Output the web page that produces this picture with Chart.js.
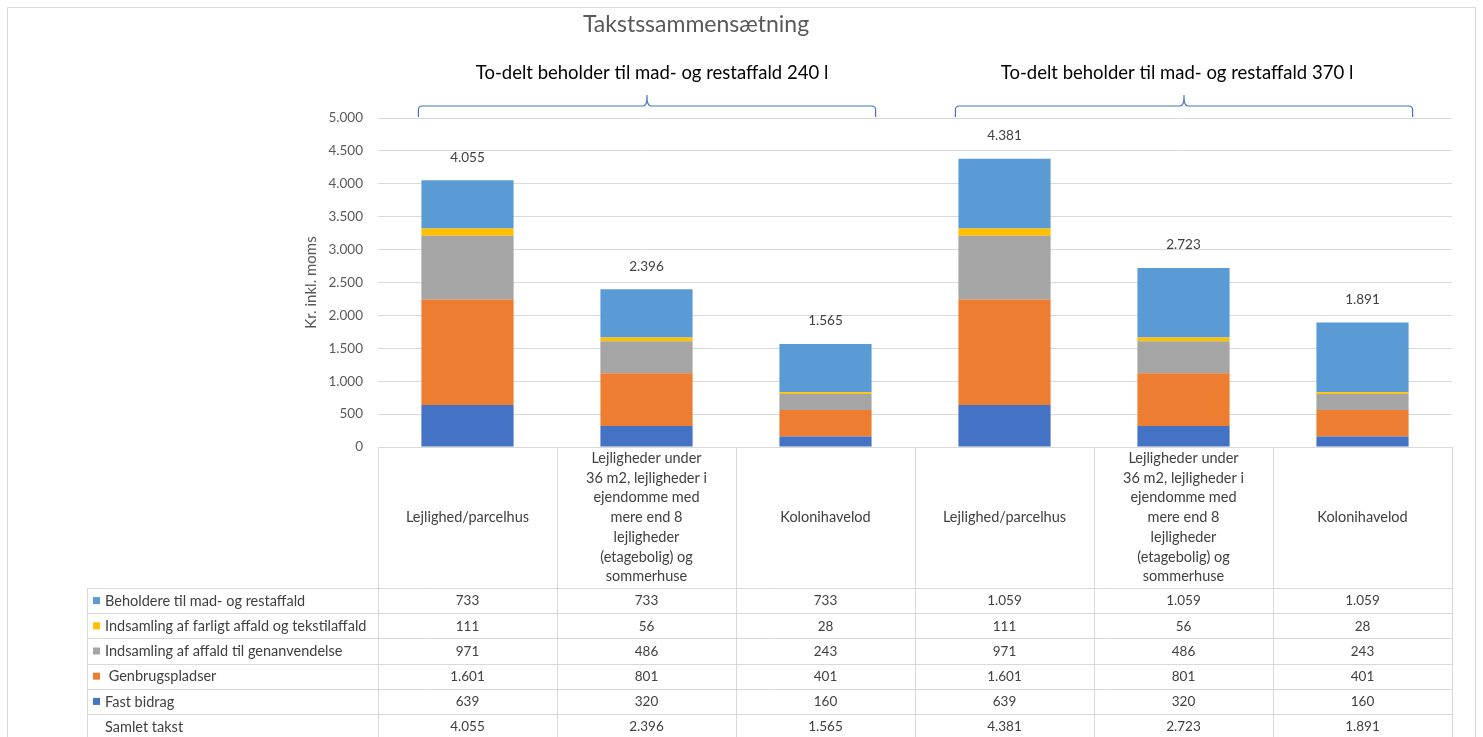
<!DOCTYPE html>
<html>
<head>
<meta charset="utf-8">
<script src="https://cdn.jsdelivr.net/npm/chart.js@4.4.1/dist/chart.umd.min.js"></script>
<style>
  html, body { margin: 0; padding: 0; background: #fff; }
  #wrap { width: 1483px; height: 737px; }
</style>
</head>
<body>
<div id="wrap"><canvas id="chart" width="1483" height="737"></canvas></div>
<script>
const categories = [
  ['Lejlighed/parcelhus'],
  ['Lejligheder under', '36 m2, lejligheder i', 'ejendomme med', 'mere end 8', 'lejligheder', '(etagebolig) og', 'sommerhuse'],
  ['Kolonihavelod'],
  ['Lejlighed/parcelhus'],
  ['Lejligheder under', '36 m2, lejligheder i', 'ejendomme med', 'mere end 8', 'lejligheder', '(etagebolig) og', 'sommerhuse'],
  ['Kolonihavelod']
];
const groups = ['To-delt beholder til mad- og restaffald 240 l', 'To-delt beholder til mad- og restaffald 370 l'];

const fastBidrag = [639, 320, 160, 639, 320, 160];
const genbrugspladser = [1601, 801, 401, 1601, 801, 401];
const genanvendelse = [971, 486, 243, 971, 486, 243];
const farligtAffald = [111, 56, 28, 111, 56, 28];
const beholdere = [733, 733, 733, 1059, 1059, 1059];
const samletTakst = [4055, 2396, 1565, 4381, 2723, 1891];

const yMax = 5000;
const yStep = 500;

const FONT = 'Lato, "Noto Sans", sans-serif';
const fmt = v => String(v).replace(/\B(?=(\d{3})+(?!\d))/g, '.');

// bottom-up stack order, table shows it top-down
const series = [
  { label: 'Fast bidrag', data: fastBidrag, color: '#4472C4' },
  { label: ' Genbrugspladser', data: genbrugspladser, color: '#ED7D31' },
  { label: 'Indsamling af affald til genanvendelse', data: genanvendelse, color: '#A5A5A5' },
  { label: 'Indsamling af farligt affald og tekstilaffald', data: farligtAffald, color: '#FFC000' },
  { label: 'Beholdere til mad- og restaffald', data: beholdere, color: '#5B9BD5' }
];

const extras = {
  id: 'extras',
  afterDraw(chart) {
    const ctx = chart.ctx;
    const x = chart.scales.x;
    const area = chart.chartArea;
    const barW = chart.getDatasetMeta(0).data[0].width;
    ctx.save();

    // frame
    ctx.strokeStyle = '#D9D9D9';
    ctx.lineWidth = 1;
    ctx.strokeRect(7.5, 7.5, 1468, 740);

    // title
    ctx.fillStyle = '#595959';
    ctx.font = '23px ' + FONT;
    ctx.textAlign = 'center';
    ctx.textBaseline = 'middle';
    ctx.fillText('Takstssammensætning', 696, 25);

    // group labels + braces
    groups.forEach((g, i) => {
      const x0 = x.getPixelForValue(i * 3) - barW / 2 - 3;
      const x1 = x.getPixelForValue(i * 3 + 2) + barW / 2 + 4;
      const mid = (x0 + x1) / 2;
      ctx.fillStyle = '#000';
      ctx.font = '18.5px ' + FONT;
      ctx.fillText(g, mid + (i === 0 ? 5 : -7), 73);
      ctx.strokeStyle = '#4472C4';
      ctx.lineWidth = 1.2;
      const yl = 106, yb = 117, yt = 95, r = 4;
      ctx.beginPath();
      ctx.moveTo(x0, yb);
      ctx.lineTo(x0, yl + r);
      ctx.quadraticCurveTo(x0, yl, x0 + r, yl);
      ctx.lineTo(mid - r, yl);
      ctx.quadraticCurveTo(mid, yl, mid, yt + 2);
      ctx.lineTo(mid, yt);
      ctx.moveTo(mid, yt + 2);
      ctx.quadraticCurveTo(mid, yl, mid + r, yl);
      ctx.lineTo(x1 - r, yl);
      ctx.quadraticCurveTo(x1, yl, x1, yl + r);
      ctx.lineTo(x1, yb);
      ctx.stroke();
    });

    // totals above the stacks
    ctx.fillStyle = '#404040';
    ctx.font = '13.5px ' + FONT;
    samletTakst.forEach((t, i) => {
      const top = chart.getDatasetMeta(series.length - 1).data[i].y;
      ctx.fillText(fmt(t), x.getPixelForValue(i), top - 23);
    });

    // data table
    const left = area.left, right = area.right;
    const tLeft = 87;
    const headTop = area.bottom, headBot = 588, rowH = 25.2;
    const colW = (right - left) / categories.length;
    ctx.strokeStyle = '#D9D9D9';
    ctx.lineWidth = 1;
    ctx.beginPath();
    ctx.moveTo(left, headTop + 0.5); ctx.lineTo(right, headTop + 0.5);
    for (let r = 0; r <= 6; r++) {
      const yy = Math.round(headBot + r * rowH) + 0.5;
      ctx.moveTo(tLeft, yy); ctx.lineTo(right, yy);
    }
    for (let c = 0; c <= categories.length; c++) {
      const xx = Math.round(left + c * colW) + 0.5;
      ctx.moveTo(xx, headTop); ctx.lineTo(xx, 740);
    }
    ctx.moveTo(tLeft + 0.5, headBot); ctx.lineTo(tLeft + 0.5, 740);
    ctx.stroke();

    // header: categories
    ctx.fillStyle = '#404040';
    ctx.font = '14.5px ' + FONT;
    const lh = 19.7;
    categories.forEach((lines, c) => {
      const cx = x.getPixelForValue(c);
      const cy = (headTop + headBot) / 2;
      lines.forEach((ln, k) => {
        ctx.fillText(ln, cx, cy + (k - (lines.length - 1) / 2) * lh);
      });
    });

    // rows
    const rows = series.slice().reverse();
    rows.push({ label: 'Samlet takst', data: samletTakst, color: null });
    rows.forEach((row, r) => {
      const cy = headBot + r * rowH + rowH / 2 + 0.5;
      if (row.color) {
        ctx.fillStyle = row.color;
        ctx.fillRect(93, cy - 4, 7, 7);
      }
      ctx.fillStyle = '#404040';
      ctx.textAlign = 'left';
      ctx.font = '14.5px ' + FONT;
      ctx.fillText(row.label, 105, cy);
      ctx.textAlign = 'center';
      ctx.font = '13.5px ' + FONT;
      row.data.forEach((v, c) => ctx.fillText(fmt(v), x.getPixelForValue(c), cy));
    });
    ctx.restore();
  }
};

new Chart(document.getElementById('chart'), {
  type: 'bar',
  data: {
    labels: categories.map(c => c.join(' ')),
    datasets: series.map(s => ({
      label: s.label,
      data: s.data,
      backgroundColor: s.color,
      borderWidth: 0,
      barPercentage: 0.515,
      categoryPercentage: 1
    }))
  },
  options: {
    responsive: false,
    animation: false,
    layout: { padding: { left: 300, right: 31, top: 118, bottom: 290 } },
    plugins: {
      legend: { display: false },
      tooltip: { enabled: false }
    },
    scales: {
      x: { stacked: true, display: false },
      y: {
        stacked: true,
        min: 0,
        max: yMax,
        afterFit(s) { s.width = 78; },
        border: { display: false },
        grid: { color: '#D9D9D9', drawTicks: false },
        ticks: {
          stepSize: yStep,
          padding: 15,
          color: '#595959',
          font: { family: FONT, size: 13.5 },
          callback: v => fmt(v)
        },
        title: {
          display: true,
          text: 'Kr. inkl. moms',
          color: '#595959',
          font: { family: FONT, size: 15 },
          padding: { top: 2, bottom: 2 }
        }
      }
    }
  },
  plugins: [extras]
});
</script>
</body>
</html>
